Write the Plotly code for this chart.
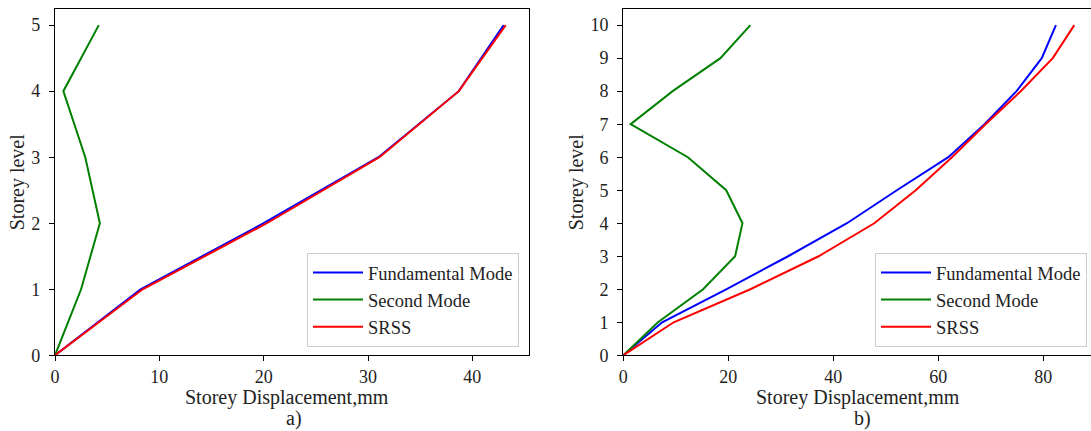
import plotly.graph_objects as go

# ---- data ----
levels_a = [0, 1, 2, 3, 4, 5]
fund_a = [0, 8.2, 20.0, 31.0, 38.7, 43.0]
second_a = [0, 2.5, 4.3, 2.9, 0.8, 4.2]
srss_a = [0, 8.4, 20.3, 31.1, 38.7, 43.2]

levels_b = [0, 1, 2, 3, 4, 5, 6, 7, 8, 9, 10]
fund_b = [0, 7.4, 19.6, 31.4, 42.6, 52.1, 61.9, 68.8, 74.9, 79.7, 82.4]
second_b = [0, 6.6, 15.2, 21.3, 22.7, 19.6, 12.3, 1.4, 9.4, 18.5, 24.2]
srss_b = [0, 9.6, 24.2, 37.2, 47.8, 55.7, 62.6, 69.0, 75.7, 81.8, 85.9]

series_names = ["Fundamental Mode", "Second Mode", "SRSS"]
series_colors = ["blue", "green", "red"]
panel_labels = ["a)", "b)"]
x_title = "Storey Displacement,mm"
y_title = "Storey level"

FONT = "Liberation Serif, Times New Roman, serif"
W, H = 1091, 431

fig = go.Figure()

for name, col, xs in zip(series_names, series_colors, [fund_a, second_a, srss_a]):
    fig.add_trace(go.Scatter(x=xs, y=levels_a, mode="lines", name=name,
                             line=dict(color=col, width=2),
                             xaxis="x", yaxis="y", legend="legend"))
for name, col, xs in zip(series_names, series_colors, [fund_b, second_b, srss_b]):
    fig.add_trace(go.Scatter(x=xs, y=levels_b, mode="lines", name=name,
                             line=dict(color=col, width=2),
                             xaxis="x2", yaxis="y2", legend="legend2"))

def px_x(p):
    return p / W

def px_y(p):
    return 1 - p / H

ydom = [px_y(355.3), px_y(9.3)]
axis_common = dict(showgrid=False, zeroline=False, showline=True, linecolor="black",
                   linewidth=1.2, ticks="outside", ticklen=5, tickwidth=1.2,
                   tickcolor="black", automargin=False,
                   tickfont=dict(family=FONT, size=18, color="#222"))

fig.update_layout(
    template="none",
    width=W, height=H,
    margin=dict(l=0, r=0, t=0, b=0, pad=0),
    paper_bgcolor="white", plot_bgcolor="white",
    font=dict(family=FONT, color="#222"),
    xaxis=dict(domain=[px_x(55), px_x(528.7)], range=[0, 45.4], anchor="y",
               dtick=10, mirror=True, ticklabelstandoff=0, **axis_common),
    yaxis=dict(domain=ydom, range=[0, 5.24], anchor="x", dtick=1, mirror=True,
               ticklabelstandoff=5, **axis_common),
    xaxis2=dict(domain=[px_x(623.3), 1.0], range=[0, 89.08], anchor="y2",
                dtick=20, mirror=True, ticklabelstandoff=0, **axis_common),
    yaxis2=dict(domain=ydom, range=[0, 10.48], anchor="x2", dtick=1, mirror=False,
                ticklabelstandoff=5, **axis_common),
    legend=dict(x=px_x(519), y=px_y(347), xanchor="right", yanchor="bottom",
                bgcolor="white", bordercolor="#cccccc", borderwidth=1,
                font=dict(family=FONT, size=18.5, color="#222"),
                itemwidth=50, tracegroupgap=0),
    legend2=dict(x=px_x(1087), y=px_y(347), xanchor="right", yanchor="bottom",
                 bgcolor="white", bordercolor="#cccccc", borderwidth=1,
                 font=dict(family=FONT, size=18.5, color="#222"),
                 itemwidth=50, tracegroupgap=0),
    showlegend=True,
)

ann_font = dict(family=FONT, size=20, color="#222")
annotations = [
    dict(text=x_title, x=px_x(287), y=px_y(397.5), xref="paper", yref="paper",
         showarrow=False, font=ann_font, xanchor="center", yanchor="middle"),
    dict(text=panel_labels[0], x=px_x(294), y=px_y(418), xref="paper", yref="paper",
         showarrow=False, font=ann_font, xanchor="center", yanchor="middle"),
    dict(text=y_title, x=px_x(17), y=px_y(182.3), xref="paper", yref="paper",
         showarrow=False, font=ann_font, textangle=-90, xanchor="center", yanchor="middle"),
    dict(text=x_title, x=px_x(857.5), y=px_y(397.5), xref="paper", yref="paper",
         showarrow=False, font=ann_font, xanchor="center", yanchor="middle"),
    dict(text=panel_labels[1], x=px_x(862), y=px_y(418), xref="paper", yref="paper",
         showarrow=False, font=ann_font, xanchor="center", yanchor="middle"),
    dict(text=y_title, x=px_x(576), y=px_y(182.3), xref="paper", yref="paper",
         showarrow=False, font=ann_font, textangle=-90, xanchor="center", yanchor="middle"),
]
fig.update_layout(annotations=annotations)

fig.write_html(
    "out.html",
    config={"displayModeBar": False},
    post_script="document.body.style.margin='0';document.body.style.overflow='hidden';",
)
